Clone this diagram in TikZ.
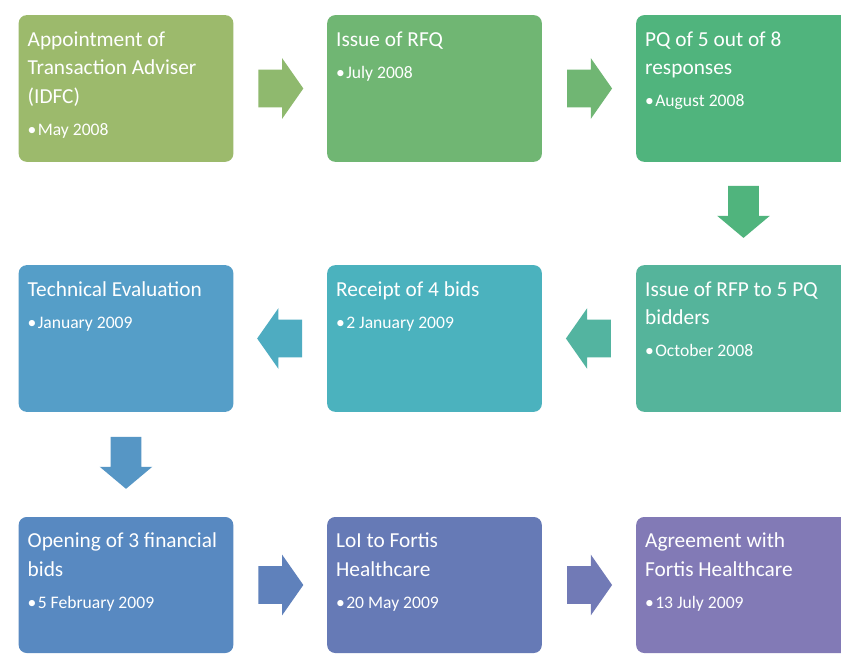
\documentclass[tikz,border=0pt]{standalone}
\usepackage{fontspec}
\setmainfont{Carlito}
\usetikzlibrary{shapes.arrows,calc}
\definecolor{cA}{HTML}{9CBA6C}
\definecolor{cB}{HTML}{70B673}
\definecolor{cC}{HTML}{50B47D}
\definecolor{cD}{HTML}{55B49B}
\definecolor{cE}{HTML}{4BB2BE}
\definecolor{cF}{HTML}{559EC8}
\definecolor{cG}{HTML}{5889C1}
\definecolor{cH}{HTML}{667AB6}
\definecolor{cI}{HTML}{827AB6}
\newcommand{\dt}{\fontsize{13.2pt}{15pt}\selectfont}
\begin{document}
\begin{tikzpicture}[x=0.75pt,y=-0.75pt]
  \tikzset{bx/.style={rectangle,rounded corners=6pt,inner sep=0pt,minimum width=161pt,minimum height=110pt},
    tx/.style={anchor=north west,inner sep=0pt,align=left,text=white,font=\fontsize{16pt}{21.4pt}\selectfont},
    ar/.style={single arrow,inner xsep=0pt,inner ysep=13.9pt,minimum height=33.75pt,single arrow head extend=8.6pt,single arrow tip angle=110},
    va/.style={single arrow,inner xsep=0pt,inner ysep=11.25pt,minimum height=39pt,single arrow head extend=8.25pt,single arrow tip angle=100,rotate=-90}}
  \useasboundingbox (0,0) rectangle (841,655);
  \clip (0,0) rectangle (841,655);
  \fill[white] (0,0) rectangle (841,655);
  % boxes
  \node[bx,fill=cA] (b1) at (126,88.5) {};
  \node[bx,fill=cB] (b2) at (434.5,88.5) {};
  \node[bx,fill=cC] (b3) at (743.5,88.5) {};
  \node[bx,fill=cD] (b4) at (743.5,338.5) {};
  \node[bx,fill=cE] (b5) at (434.5,338.5) {};
  \node[bx,fill=cF] (b6) at (126,338.5) {};
  \node[bx,fill=cG,minimum height=102pt] (b7) at (126,585) {};
  \node[bx,fill=cH,minimum height=102pt] (b8) at (434.5,585) {};
  \node[bx,fill=cI,minimum height=102pt] (b9) at (743.5,585) {};
  % texts
  \node[tx] (t1) at ($(b1.north west)+(9,11)$) {\strut Appointment of\\Transaction Adviser\\(IDFC)\\[2.6pt]{\dt •\kern1pt May 2008}};
  \node[tx] (t2) at ($(b2.north west)+(9,11)$) {\strut Issue of RFQ\\[2.6pt]{\dt •\kern1pt July 2008}};
  \node[tx] (t3) at ($(b3.north west)+(9,11)$) {\strut PQ of 5 out of 8\\responses\\[2.6pt]{\dt •\kern1pt August 2008}};
  \node[tx] (t4) at ($(b4.north west)+(9,11)$) {\strut Issue of RFP to 5 PQ\\bidders\\[2.6pt]{\dt •\kern1pt October 2008}};
  \node[tx] (t5) at ($(b5.north west)+(9,11)$) {\strut Receipt of 4 bids\\[2.6pt]{\dt •\kern1pt 2 January 2009}};
  \node[tx] (t6) at ($(b6.north west)+(9,11)$) {\strut Technical Evaluation\\[2.6pt]{\dt •\kern1pt January 2009}};
  \node[tx] (t7) at ($(b7.north west)+(9,11)$) {\strut Opening of 3 financial\\bids\\[2.6pt]{\dt •\kern1pt 5 February 2009}};
  \node[tx] (t8) at ($(b8.north west)+(9,11)$) {\strut LoI to Fortis\\Healthcare\\[2.6pt]{\dt •\kern1pt 20 May 2009}};
  \node[tx] (t9) at ($(b9.north west)+(9,11)$) {\strut Agreement with\\Fortis Healthcare\\[2.6pt]{\dt •\kern1pt 13 July 2009}};
  % arrows
  \node[ar,fill=cA!70!cB] (a1) at ($(b1.east)!0.5!(b2.west)+(-6,0)$) {};
  \node[ar,fill=cB] (a2) at ($(b2.east)!0.5!(b3.west)+(-6,0)$) {};
  \node[va,fill=cC] (a3) at ($(b3.south)!0.5!(b4.north)+(0,-8)$) {};
  \node[ar,fill=cD!85!cE,rotate=180] (a4) at ($(b4.west)!0.5!(b5.east)+(6,0)$) {};
  \node[ar,fill=cE!70!cF,rotate=180] (a5) at ($(b5.west)!0.5!(b6.east)+(6,0)$) {};
  \node[va,fill=cF!60!cG] (a6) at ($(b6.south)!0.5!(b7.north)+(0,-8)$) {};
  \node[ar,fill=cG!50!cH] (a7) at ($(b7.east)!0.5!(b8.west)+(-6,0)$) {};
  \node[ar,fill=cH!60!cI] (a8) at ($(b8.east)!0.5!(b9.west)+(-6,0)$) {};
\end{tikzpicture}
\end{document}
